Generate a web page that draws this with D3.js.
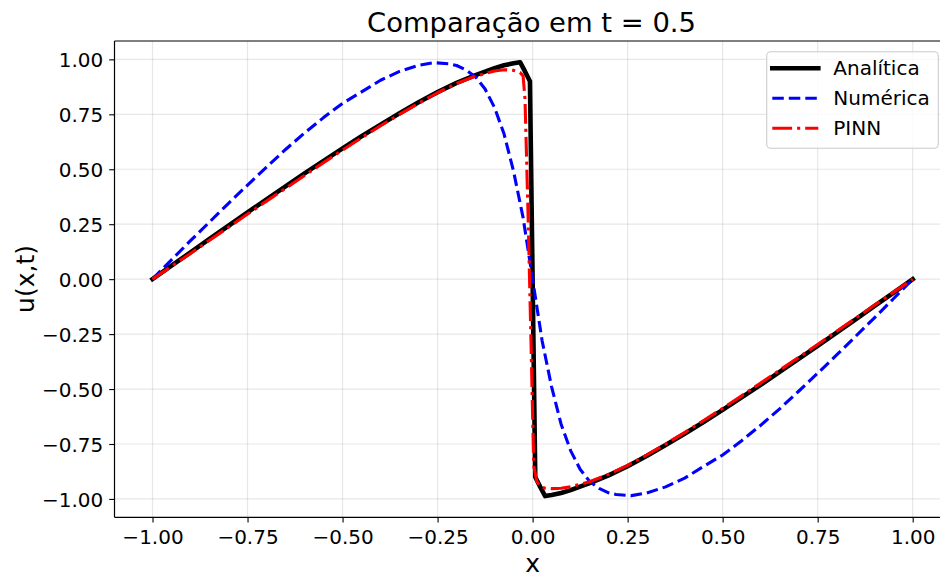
<!DOCTYPE html>
<html><head><meta charset="utf-8">
<script src="https://cdn.jsdelivr.net/npm/d3@7"></script>
<style>body{margin:0;background:#fff}svg{display:block}text{font-family:"DejaVu Sans",sans-serif;fill:#000}</style>
</head><body><svg id="chart" width="940" height="579"></svg>
<script>
const titleText = "Comparação em t = 0.5";
const xLabel = "x", yLabel = "u(x,t)";
const tickValues = [-1.00,-0.75,-0.50,-0.25,0.00,0.25,0.50,0.75,1.00];
const seriesNames = ["Analítica","Numérica","PINN"];

const xAnalytic = [-1.00,-0.95,-0.90,-0.85,-0.80,-0.75,-0.70,-0.65,-0.60,-0.55,-0.50,-0.45,-0.40,-0.35,-0.30,-0.25,-0.20,-0.15,-0.10,-0.075,-0.05,-0.033,-0.02,-0.007,0.007,0.02,0.033,0.05,0.075,0.10,0.15,0.20,0.25,0.30,0.35,0.40,0.45,0.50,0.55,0.60,0.65,0.70,0.75,0.80,0.85,0.90,0.95,1.00];
const uAnalytic = [0,0.061,0.122,0.183,0.243,0.304,0.363,0.422,0.481,0.538,0.595,0.650,0.703,0.755,0.805,0.851,0.893,0.928,0.960,0.973,0.982,0.987,0.945,0.900,-0.900,-0.945,-0.987,-0.982,-0.973,-0.960,-0.928,-0.893,-0.851,-0.805,-0.755,-0.703,-0.650,-0.595,-0.538,-0.481,-0.422,-0.363,-0.304,-0.243,-0.183,-0.122,-0.061,0];

const xNumeric = [-1.00,-0.95,-0.90,-0.85,-0.80,-0.75,-0.70,-0.65,-0.60,-0.55,-0.50,-0.45,-0.40,-0.35,-0.30,-0.26,-0.22,-0.20,-0.175,-0.15,-0.125,-0.10,-0.075,-0.05,-0.025,-0.0125,0,0.0125,0.025,0.05,0.075,0.10,0.125,0.15,0.175,0.20,0.22,0.26,0.30,0.35,0.40,0.45,0.50,0.55,0.60,0.65,0.70,0.75,0.80,0.85,0.90,0.95,1.00];
const uNumeric = [0,0.088,0.175,0.260,0.345,0.428,0.510,0.590,0.665,0.735,0.800,0.852,0.905,0.945,0.973,0.985,0.980,0.972,0.952,0.920,0.865,0.780,0.660,0.490,0.280,0.140,0,-0.140,-0.280,-0.490,-0.660,-0.780,-0.865,-0.920,-0.952,-0.972,-0.980,-0.985,-0.973,-0.945,-0.905,-0.852,-0.800,-0.735,-0.665,-0.590,-0.510,-0.428,-0.345,-0.260,-0.175,-0.088,0];

const xPinn = [-1.00,-0.95,-0.90,-0.85,-0.80,-0.75,-0.70,-0.65,-0.60,-0.55,-0.50,-0.45,-0.40,-0.35,-0.30,-0.25,-0.20,-0.15,-0.10,-0.075,-0.05,-0.033,-0.025,-0.02,-0.012,-0.004,0.003,0.011,0.02,0.033,0.05,0.075,0.10,0.15,0.20,0.25,0.30,0.35,0.40,0.45,0.50,0.55,0.60,0.65,0.70,0.75,0.80,0.85,0.90,0.95,1.00];
const uPinn = [0,0.058,0.117,0.177,0.236,0.296,0.355,0.413,0.472,0.530,0.587,0.643,0.698,0.750,0.800,0.848,0.890,0.924,0.947,0.953,0.950,0.940,0.925,0.820,0.300,-0.300,-0.850,-0.920,-0.943,-0.951,-0.953,-0.951,-0.944,-0.922,-0.888,-0.847,-0.800,-0.750,-0.698,-0.643,-0.588,-0.531,-0.473,-0.414,-0.356,-0.297,-0.237,-0.178,-0.118,-0.059,0];

const svg = d3.select("#chart");
svg.append("rect").attr("width",940).attr("height",579).attr("fill","#fff");

const L = 114.5, R = 950.7, T = 41, B = 517.3;
const x = d3.scaleLinear().domain([-1.1,1.1]).range([L,R]);
const y = d3.scaleLinear().domain([-1.0835,1.0835]).range([B,T]);
const fmt = v => d3.format(".2f")(v).replace("-","\u2212");

// grid
const grid = svg.append("g");
grid.selectAll(".gx").data(tickValues).join("line")
  .attr("x1",d=>x(d)).attr("x2",d=>x(d)).attr("y1",T).attr("y2",B)
  .attr("stroke","#b0b0b0").attr("stroke-opacity",0.3).attr("stroke-width",1.2);
grid.selectAll(".gy").data(tickValues).join("line")
  .attr("y1",d=>y(d)).attr("y2",d=>y(d)).attr("x1",L).attr("x2",R)
  .attr("stroke","#b0b0b0").attr("stroke-opacity",0.3).attr("stroke-width",1.2);

// axes
const xAxis = d3.axisBottom(x).tickValues(tickValues).tickFormat(fmt).tickSize(5.3).tickPadding(7);
const yAxis = d3.axisLeft(y).tickValues(tickValues).tickFormat(fmt).tickSize(5.3).tickPadding(6);
const gx = svg.append("g").attr("transform",`translate(0,${B})`).call(xAxis);
const gy = svg.append("g").attr("transform",`translate(${L},0)`).call(yAxis);
[gx,gy].forEach(g=>{
  g.select(".domain").remove();
  g.selectAll(".tick line").attr("stroke","#000").attr("stroke-width",1.1);
  g.selectAll(".tick text").attr("font-size","20px").attr("font-family","DejaVu Sans").attr("fill","#000");
});
gy.selectAll(".tick text").attr("dy","0.36em");
gx.selectAll(".tick text").attr("dy","0.71em");

// clip
svg.append("clipPath").attr("id","clip").append("rect").attr("x",L).attr("y",T).attr("width",R-L).attr("height",B-T);
const plot = svg.append("g").attr("clip-path","url(#clip)");
const line = d3.line().x(d=>x(d[0])).y(d=>y(d[1]));

const series = [
  {name:seriesNames[0], xs:xAnalytic, us:uAnalytic, color:"#000000", w:4.6, dash:null},
  {name:seriesNames[1], xs:xNumeric, us:uNumeric, color:"#0000ff", w:3.1, dash:"11.5,5"},
  {name:seriesNames[2], xs:xPinn, us:uPinn, color:"#ff0000", w:3.1, dash:"19.8,5,3.1,5"}
];
series.forEach(s=>{
  plot.append("path").datum(d3.zip(s.xs,s.us)).attr("d",line)
    .attr("fill","none").attr("stroke",s.color).attr("stroke-width",s.w)
    .attr("stroke-linejoin","round").attr("stroke-linecap", s.dash? "butt":"square")
    .attr("stroke-dasharray",s.dash);
});

// spines
svg.append("line").attr("x1",L).attr("x2",L).attr("y1",T).attr("y2",B).attr("stroke","#000").attr("stroke-width",1.2);
svg.append("line").attr("x1",L).attr("x2",R).attr("y1",B).attr("y2",B).attr("stroke","#000").attr("stroke-width",1.2);
svg.append("line").attr("x1",L).attr("x2",R).attr("y1",T).attr("y2",T).attr("stroke","#000").attr("stroke-width",1.2);

// title & labels
svg.append("text").attr("x",531.5).attr("y",31.5).attr("text-anchor","middle").attr("font-size","27.4px").text(titleText);
svg.append("text").attr("x",532.7).attr("y",572).attr("text-anchor","middle").attr("font-size","25px").text(xLabel);
svg.append("text").attr("transform","translate(33.5,279) rotate(-90)").attr("text-anchor","middle").attr("font-size","25px").text(yLabel);

// legend
const lg = svg.append("g");
lg.append("rect").attr("x",766.7).attr("y",51.7).attr("width",171.6).attr("height",96.6).attr("rx",4)
  .attr("fill","#fff").attr("fill-opacity",0.8).attr("stroke","#cccccc").attr("stroke-width",1.1);
series.forEach((s,i)=>{
  const cy = 68.3 + i*30;
  lg.append("line").attr("x1",772.3).attr("x2",818.3).attr("y1",cy).attr("y2",cy)
    .attr("stroke",s.color).attr("stroke-width",s.w).attr("stroke-dasharray",s.dash)
    .attr("stroke-linecap", s.dash? "butt":"square");
  lg.append("text").attr("x",833.3).attr("y",cy+7).attr("font-size","20px").text(s.name);
});
</script></body></html>
